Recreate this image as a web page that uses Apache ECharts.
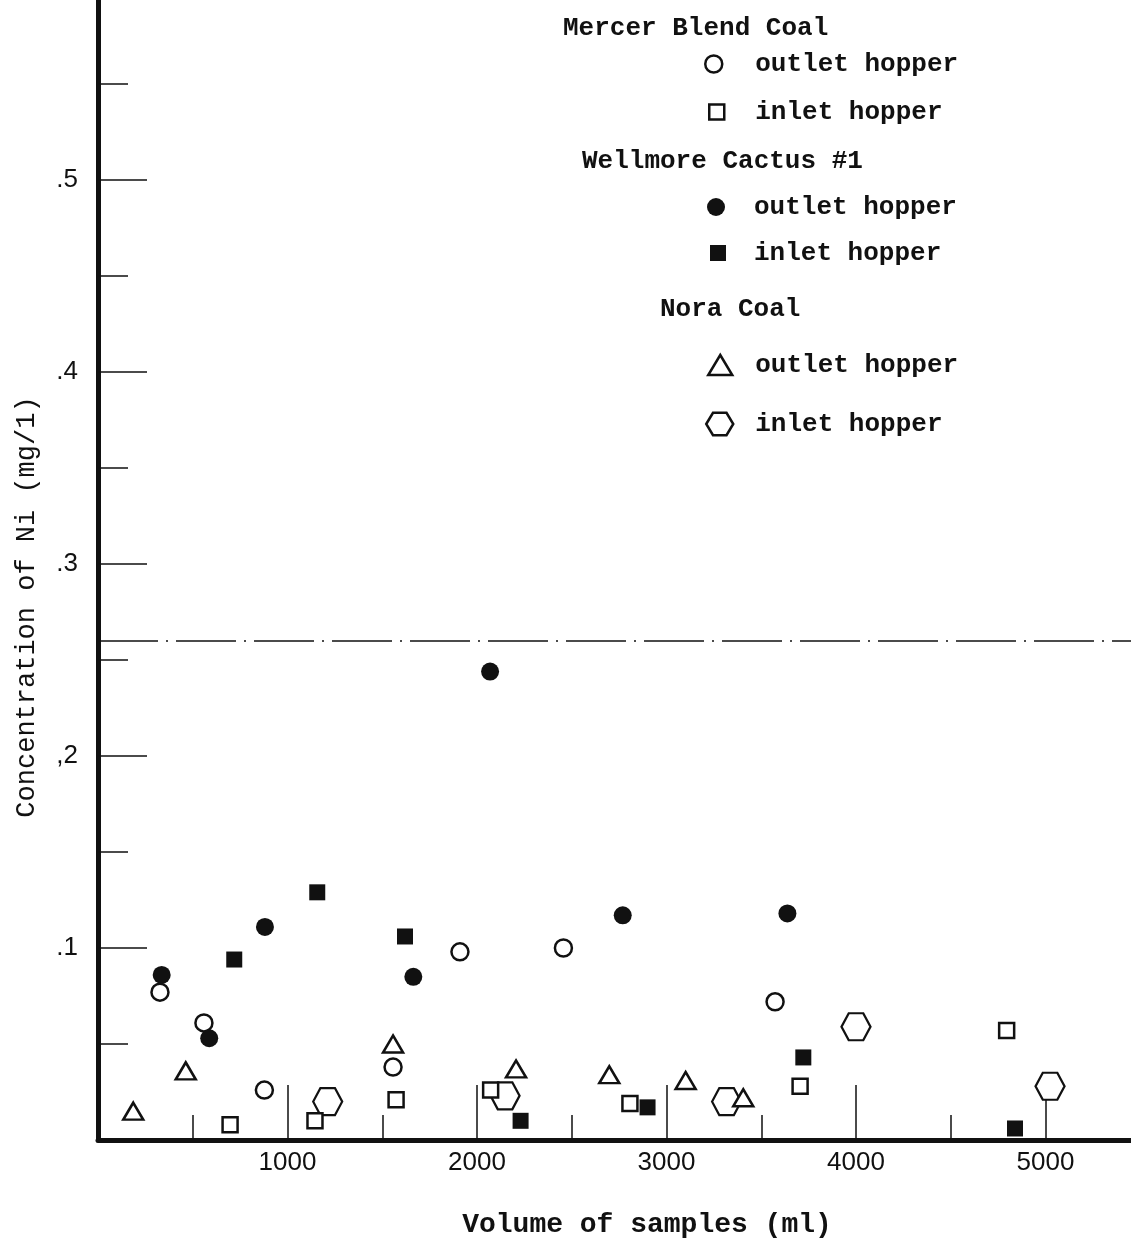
<!DOCTYPE html>
<html>
<head>
<meta charset="utf-8">
<title>Concentration of Ni</title>
<script src="https://cdn.jsdelivr.net/npm/echarts@6/dist/echarts.min.js"></script>
<style>
html, body { margin: 0; padding: 0; background: #fff; }
#echart { width: 1131px; height: 1243px; }
</style>
</head>
<body>
<div id="echart"></div>
<script>
// data: [volume (ml), Ni (mg/l)]
var mercerOutlet = [[327, 0.077], [559, 0.061], [878, 0.026], [1557, 0.038], [1910, 0.098], [2456, 0.100], [3573, 0.072]];
var mercerInlet = [[697, 0.008], [1145, 0.010], [1573, 0.021], [2072, 0.026], [2807, 0.019], [3705, 0.028], [4795, 0.057]];
var wellmoreOutlet = [[336, 0.086], [587, 0.053], [881, 0.111], [1664, 0.085], [2069, 0.244], [2769, 0.117], [3638, 0.118]];
var wellmoreInlet = [[719, 0.094], [1157, 0.129], [1620, 0.106], [2230, 0.010], [2900, 0.017], [3722, 0.043], [4839, 0.006]];
var noraOutlet = [[186, 0.015], [463, 0.036], [1557, 0.050], [2206, 0.037], [2698, 0.034], [3101, 0.031], [3405, 0.022]];
var noraInlet = [[1212, 0.020], [2148, 0.023], [3317, 0.020], [4000, 0.059], [5024, 0.028]];

var limitLine = 0.26;

var xTicks = [1000, 2000, 3000, 4000, 5000];
var xTickLabels = ['1000', '2000', '3000', '4000', '5000'];
var yTicks = [0.1, 0.2, 0.3, 0.4, 0.5];
var yTickLabels = ['.1', ',2', '.3', '.4', '.5'];

var ink = '#111';
var mono = '"Liberation Mono", "DejaVu Sans Mono", monospace';
var sans = '"Liberation Sans", Arial, sans-serif';
var hexagon = 'path://M0,5 L3,0 L9,0 L12,5 L9,10 L3,10 Z';

function pickLabel(ticks, labels, v) {
    for (var i = 0; i < ticks.length; i++) {
        if (Math.abs(ticks[i] - v) < 1e-6) return labels[i];
    }
    return '';
}

var hollow = { color: '#fff', borderColor: ink, borderWidth: 2.5, opacity: 1 };
var solid = { color: ink, opacity: 1 };

// one legend per entry so they can sit under their group headings
function legendEntry(name, label, icon, w, h, left, top, style) {
    return {
        data: [{ name: name, icon: icon, itemStyle: style }],
        left: left,
        top: top,
        padding: 0,
        itemWidth: w,
        itemHeight: h,
        selectedMode: false,
        formatter: function () { return label; },
        textStyle: {
            fontFamily: mono,
            fontWeight: 'bold',
            fontSize: 26,
            color: ink,
            padding: [0, 0, 0, 754 - left - w - 5]
        }
    };
}

var myChart = echarts.init(document.getElementById('echart'));

var option = {
    backgroundColor: '#fff',
    animation: false,
    grid: {
        left: 98,
        right: -104,
        top: -12,
        bottom: 103,
        containLabel: false,
        outerBoundsMode: 'none'
    },
    xAxis: {
        type: 'value',
        min: 0,
        max: 6000,
        interval: 1000,
        axisLine: { show: true, onZero: false, lineStyle: { color: ink, width: 5 } },
        axisTick: { show: true, inside: true, length: 55, lineStyle: { color: ink, width: 1.5 } },
        minorTick: { show: true, splitNumber: 2, length: 25, lineStyle: { color: ink, width: 1.5 } },
        splitLine: { show: false },
        axisLabel: {
            margin: 10,
            fontFamily: sans,
            fontSize: 26,
            color: ink,
            formatter: function (v) { return pickLabel(xTicks, xTickLabels, v); }
        }
    },
    yAxis: {
        type: 'value',
        min: 0,
        max: 0.6,
        interval: 0.1,
        axisLine: { show: true, onZero: false, lineStyle: { color: ink, width: 5 } },
        axisTick: { show: true, inside: true, length: 49, lineStyle: { color: ink, width: 1.5 } },
        minorTick: { show: true, splitNumber: 2, length: 30, lineStyle: { color: ink, width: 1.5 } },
        splitLine: { show: false },
        axisLabel: {
            margin: 20,
            fontFamily: sans,
            fontSize: 26,
            color: ink,
            formatter: function (v) { return pickLabel(yTicks, yTickLabels, v); }
        }
    },
    legend: [
        legendEntry('Mercer outlet', 'outlet hopper', 'circle', 17, 17, 704, 51, hollow),
        legendEntry('Mercer inlet', 'inlet hopper', 'rect', 15, 15, 708, 99, hollow),
        legendEntry('Wellmore outlet', 'outlet hopper', 'circle', 18, 18, 707, 194, solid),
        legendEntry('Wellmore inlet', 'inlet hopper', 'rect', 16, 16, 710, 240, solid),
        legendEntry('Nora outlet', 'outlet hopper', 'triangle', 24, 20, 707, 352, hollow),
        legendEntry('Nora inlet', 'inlet hopper', hexagon, 27, 25, 705, 411, hollow)
    ],
    graphic: [
        { type: 'text', x: 563, y: 28, style: { text: 'Mercer Blend Coal', font: 'bold 26px ' + mono, fill: ink, verticalAlign: 'middle' } },
        { type: 'text', x: 582, y: 161, style: { text: 'Wellmore Cactus #1', font: 'bold 26px ' + mono, fill: ink, verticalAlign: 'middle' } },
        { type: 'text', x: 660, y: 309, style: { text: 'Nora Coal', font: 'bold 26px ' + mono, fill: ink, verticalAlign: 'middle' } },
        { type: 'text', x: 647, y: 1225, style: { text: 'Volume of samples (ml)', font: 'bold 28px ' + mono, fill: ink, align: 'center', verticalAlign: 'middle' } },
        { type: 'text', x: 27, y: 607, rotation: Math.PI / 2, style: { text: 'Concentration of Ni (mg/1)', font: '27px ' + mono, fill: ink, align: 'center', verticalAlign: 'middle' } }
    ],
    series: [
        {
            name: 'Nora inlet',
            type: 'scatter',
            symbol: hexagon,
            symbolSize: [29, 27],
            itemStyle: { color: '#fff', borderColor: ink, borderWidth: 2.2, opacity: 1 },
            data: noraInlet,
            markLine: {
                silent: true,
                symbol: ['none', 'none'],
                label: { show: false },
                lineStyle: { color: ink, width: 1.5, type: [60, 8, 2, 8] },
                data: [{ yAxis: limitLine }]
            }
        },
        {
            name: 'Mercer inlet',
            type: 'scatter',
            symbol: 'rect',
            symbolSize: 15,
            itemStyle: hollow,
            data: mercerInlet
        },
        {
            name: 'Mercer outlet',
            type: 'scatter',
            symbol: 'circle',
            symbolSize: 17,
            itemStyle: hollow,
            data: mercerOutlet
        },
        {
            name: 'Nora outlet',
            type: 'scatter',
            symbol: 'triangle',
            symbolSize: [20, 17],
            itemStyle: hollow,
            data: noraOutlet
        },
        {
            name: 'Wellmore inlet',
            type: 'scatter',
            symbol: 'rect',
            symbolSize: 16,
            itemStyle: solid,
            data: wellmoreInlet
        },
        {
            name: 'Wellmore outlet',
            type: 'scatter',
            symbol: 'circle',
            symbolSize: 18,
            itemStyle: solid,
            data: wellmoreOutlet
        }
    ]
};

myChart.setOption(option);
</script>
</body>
</html>
